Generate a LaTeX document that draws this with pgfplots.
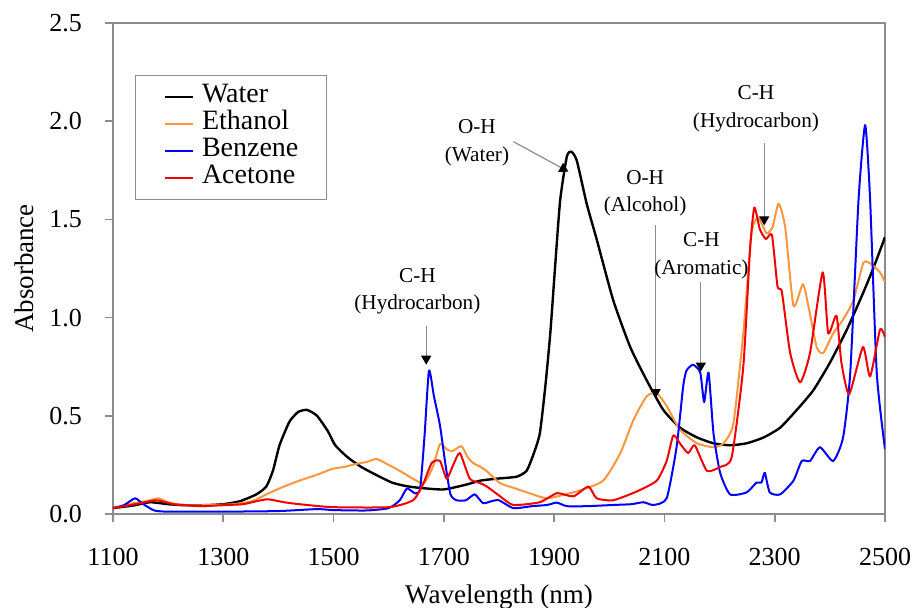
\documentclass[border=0pt]{standalone}
\usepackage{pgfplots}
\pgfplotsset{compat=1.18}
\usepackage{fontspec}
\setmainfont{Liberation Serif}
\usetikzlibrary{arrows.meta}

\definecolor{ethanol}{RGB}{250,150,60}
\definecolor{benzene}{RGB}{0,0,255}
\definecolor{acetone}{RGB}{240,0,0}
\definecolor{frame}{RGB}{140,140,140}

\begin{document}
\begin{tikzpicture}[
    >=stealth,
    ann/.style = {font=\fontsize{10.6}{13.8}\selectfont, align=center},
    pointer/.style = {draw=frame, line width=0.6pt, -{Triangle[length=4.5pt, width=5pt, color=black, fill=black]}}
  ]
  \path[use as bounding box] (-56.5pt,-46.5pt) rectangle (401pt,257pt);
  \begin{axis}[
       scale only axis,
       width = 386pt,
       height = 245.5pt,
       xmin = 1100, xmax = 2500,
       ymin = 0, ymax = 2.5,
       xtick = {1100,1300,...,2500},
       ytick = {0,0.5,...,2.5},
       xtick pos = bottom,
       ytick pos = left,
       tick align = outside,
       major tick length = 4pt,
       axis line style = {frame, line width=0.8pt},
       tick style = {frame, line width=0.8pt},
       /pgf/number format/assume math mode=true,
       /pgf/number format/set thousands separator={},
       yticklabel style = {/pgf/number format/fixed, /pgf/number format/fixed zerofill,
                           /pgf/number format/precision=1, xshift=-8pt},
       xticklabel style = {yshift=-9.5pt},
       ticklabel style = {font=\fontsize{13}{13}\selectfont},
       xlabel = {Wavelength (nm)},
       ylabel = {Absorbance},
       label style = {font=\fontsize{13.5}{13.5}\selectfont},
       xlabel style = {at={(axis description cs:0.5,0)}, anchor=base, yshift=-44.5pt},
       ylabel style = {at={(axis description cs:-0.1153,0.5)}, anchor=center},
       legend cell align = left,
       legend style = {at={(axis description cs:0.0285,0.894)}, anchor=north west,
                       draw=frame, line width=0.6pt,
                       font=\fontsize{14}{14}\selectfont,
                       inner xsep=14pt, inner ysep=4pt,
                       nodes={inner sep=0pt, text height=9.6pt, text depth=3.9pt},
                       column sep=4pt},
       legend image code/.code={\draw[#1] (0pt,0pt) -- (14pt,0pt);},
       every axis plot/.append style = {line width=1pt, line join=round, smooth, tension=0.35}
       ]
    % Water
    \addplot [black, line width=1.2pt] coordinates {
      (1100,0.03) (1140,0.045) (1167,0.06) (1200,0.05) (1227,0.045) (1267,0.045)
      (1300,0.05) (1330,0.065) (1360,0.1) (1378,0.14) (1390,0.22) (1402,0.35)
      (1420,0.47) (1436,0.52) (1452,0.53) (1470,0.5) (1490,0.42) (1503,0.35)
      (1525,0.29) (1550,0.24) (1580,0.195) (1606,0.16) (1630,0.143) (1653,0.134)
      (1699,0.125) (1741,0.15) (1766,0.17) (1796,0.18) (1832,0.19) (1850,0.22)
      (1862,0.3) (1874,0.41) (1884,0.65) (1893,0.92) (1902,1.27) (1911,1.6)
      (1923,1.82) (1931,1.845) (1941,1.8) (1959,1.58) (1977,1.4) (2007,1.09)
      (2038,0.85) (2068,0.68) (2098,0.53) (2128,0.44) (2159,0.39) (2189,0.36)
      (2219,0.35) (2249,0.36) (2280,0.39) (2310,0.44) (2340,0.53) (2370,0.63)
      (2400,0.77) (2431,0.94) (2461,1.13) (2480,1.26) (2500,1.41)
    };
    \addlegendentry{Water}
    % Ethanol
    \addplot [ethanol] coordinates {
      (1100,0.03) (1136,0.055) (1160,0.065) (1182,0.08) (1200,0.06) (1227,0.045)
      (1270,0.045) (1318,0.05) (1352,0.065) (1378,0.1) (1410,0.14) (1438,0.17)
      (1470,0.2) (1498,0.23) (1520,0.24) (1541,0.255) (1560,0.265) (1578,0.28)
      (1600,0.25) (1620,0.22) (1650,0.17) (1665,0.16) (1680,0.24) (1693,0.356)
      (1705,0.33) (1715,0.32) (1732,0.345) (1743,0.29) (1753,0.26) (1766,0.24)
      (1777,0.22) (1802,0.157) (1830,0.13) (1856,0.105) (1887,0.08) (1920,0.1)
      (1947,0.12) (1989,0.17) (2020,0.31) (2044,0.48) (2068,0.6) (2086,0.615)
      (2104,0.55) (2128,0.43) (2159,0.36) (2189,0.34) (2207,0.36) (2225,0.46)
      (2243,0.92) (2258,1.43) (2270,1.51) (2285,1.43) (2296,1.46) (2307,1.58)
      (2319,1.46) (2334,1.06) (2351,1.17) (2361,1.06) (2376,0.85) (2388,0.82)
      (2406,0.92) (2424,0.99) (2443,1.09) (2461,1.28) (2476,1.27) (2491,1.23)
      (2500,1.18)
    };
    \addlegendentry{Ethanol}
    % Benzene
    \addplot [benzene] coordinates {
      (1100,0.03) (1120,0.045) (1140,0.08) (1155,0.05) (1175,0.018) (1200,0.012)
      (1300,0.012) (1400,0.015) (1470,0.025) (1500,0.02) (1560,0.018) (1600,0.03)
      (1620,0.07) (1633,0.13) (1648,0.105) (1657,0.13) (1665,0.4) (1673,0.73)
      (1682,0.6) (1693,0.45) (1703,0.25) (1712,0.1) (1723,0.07) (1740,0.07)
      (1756,0.1) (1771,0.055) (1786,0.065) (1800,0.07) (1826,0.03) (1860,0.04)
      (1887,0.046) (1905,0.058) (1923,0.04) (1960,0.04) (2007,0.046) (2040,0.05)
      (2062,0.06) (2080,0.046) (2104,0.08) (2122,0.34) (2134,0.65) (2140,0.73)
      (2152,0.76) (2165,0.72) (2172,0.57) (2180,0.72) (2189,0.41) (2201,0.21)
      (2219,0.1) (2249,0.11) (2267,0.16) (2276,0.16) (2282,0.21) (2291,0.11)
      (2310,0.1) (2334,0.17) (2349,0.27) (2364,0.27) (2382,0.34) (2406,0.27)
      (2424,0.39) (2437,0.72) (2452,1.6) (2464,1.98) (2473,1.6) (2485,0.72)
      (2500,0.33)
    };
    \addlegendentry{Benzene}
    % Acetone
    \addplot [acetone] coordinates {
      (1100,0.03) (1140,0.05) (1179,0.07) (1210,0.05) (1257,0.04) (1300,0.045)
      (1336,0.05) (1360,0.065) (1381,0.075) (1410,0.06) (1438,0.05) (1498,0.035)
      (1601,0.035) (1644,0.07) (1662,0.15) (1678,0.26) (1693,0.27) (1705,0.18)
      (1717,0.25) (1729,0.31) (1747,0.18) (1766,0.157) (1778,0.14) (1802,0.09)
      (1826,0.046) (1874,0.06) (1905,0.106) (1935,0.09) (1962,0.14) (1977,0.08)
      (2007,0.07) (2050,0.115) (2086,0.17) (2104,0.27) (2116,0.4) (2128,0.36)
      (2143,0.31) (2155,0.35) (2177,0.22) (2201,0.24) (2222,0.29) (2243,0.75)
      (2255,1.34) (2263,1.56) (2273,1.45) (2284,1.4) (2295,1.42) (2305,1.16)
      (2313,1.13) (2328,0.82) (2346,0.67) (2364,0.82) (2387,1.23) (2397,0.92)
      (2412,1.01) (2421,0.77) (2435,0.61) (2460,0.85) (2473,0.7) (2491,0.94)
      (2500,0.9)
    };
    \addlegendentry{Acetone}

    % annotations
    \node[ann] at (axis cs:1652,1.135) {C-H\\(Hydrocarbon)};
    \draw[pointer] (axis cs:1668,0.955) -- (axis cs:1668,0.76);
    \node[ann] at (axis cs:1760,1.89) {O-H\\(Water)};
    \draw[pointer] (axis cs:1826,1.896) -- (axis cs:1926,1.743);
    \node[ann] at (axis cs:2065,1.633) {O-H\\(Alcohol)};
    \draw[pointer] (axis cs:2084,1.47) -- (axis cs:2084,0.59);
    \node[ann] at (axis cs:2167,1.315) {C-H\\(Aromatic)};
    \draw[pointer] (axis cs:2166,1.18) -- (axis cs:2166,0.725);
    \node[ann] at (axis cs:2266,2.064) {C-H\\(Hydrocarbon)};
    \draw[pointer] (axis cs:2281,1.888) -- (axis cs:2281,1.47);
  \end{axis}
\end{tikzpicture}
\end{document}
